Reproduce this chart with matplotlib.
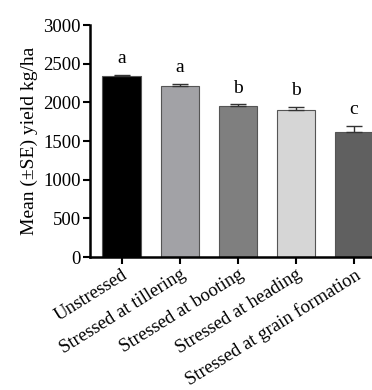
import matplotlib.pyplot as plt
from matplotlib.transforms import ScaledTranslation

# Data
treatments = ["Unstressed", "Stressed at tillering", "Stressed at booting",
              "Stressed at heading", "Stressed at grain formation"]
mean_yield = [2340, 2207, 1949, 1906, 1613]
se_yield = [15, 30, 25, 40, 80]
letters = ["a", "a", "b", "b", "c"]
bar_colors = ["#000000", "#a2a2a6", "#7f7f7f", "#d6d6d6", "#606060"]

plt.rcParams["font.family"] = ["Liberation Serif", "DejaVu Serif"]

fig = plt.figure(figsize=(3.72, 3.90), dpi=100)
# axes run past the right edge, like the reference (last bar is cut off)
ax = fig.add_axes([90 / 372, 1 - 257 / 390, 296 / 372, 232 / 390])

x = range(len(treatments))
ax.bar(x, mean_yield, width=0.67, color=bar_colors, edgecolor="#555555",
       linewidth=0.8, zorder=2)
ax.errorbar(x, mean_yield, yerr=[[0] * len(se_yield), se_yield], fmt="none",
            ecolor="#333333", elinewidth=1.0, capsize=5.5, capthick=1.0, zorder=3)

for xi, m, s, lab in zip(x, mean_yield, se_yield, letters):
    ax.text(xi, m + s + 150, lab, ha="center", va="baseline", fontsize=14)

ax.set_xlim(-0.55, 4.55)
ax.set_ylim(0, 3000)
ax.set_yticks(range(0, 3001, 500))
ax.set_xticks(list(x))
ax.set_xticklabels(treatments, rotation=32, ha="right", va="top",
                   rotation_mode="anchor", fontsize=13.5)
# labels sit a little to the right of their ticks in the original
shift = ScaledTranslation(8 / 100, 0, fig.dpi_scale_trans)
for lbl in ax.get_xticklabels():
    lbl.set_transform(lbl.get_transform() + shift)
ax.tick_params(axis="y", labelsize=13.5, width=1.5, length=5, pad=1.5)
ax.tick_params(axis="x", width=1.5, length=5, pad=1.5)
ax.set_ylabel("Mean (\u00b1SE) yield kg/ha", fontsize=14, labelpad=4)

for side in ["top", "right"]:
    ax.spines[side].set_visible(False)
for side in ["left", "bottom"]:
    ax.spines[side].set_linewidth(1.8)

fig.savefig("out.png", dpi=100)
